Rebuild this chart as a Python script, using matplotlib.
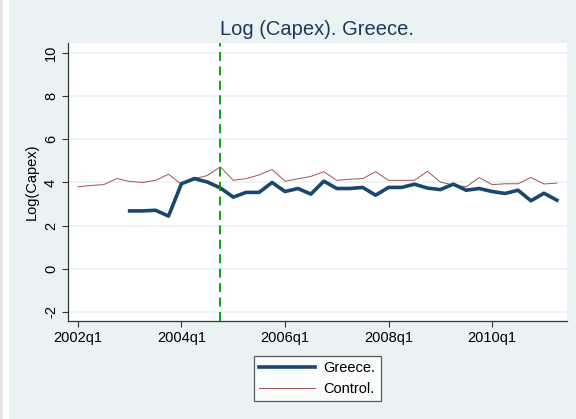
import matplotlib.pyplot as plt
from matplotlib.patches import Rectangle

quarters = list(range(38))  # 0 = 2002q1
tick_pos = [0, 8, 16, 24, 32]
tick_labels = ["2002q1", "2004q1", "2006q1", "2008q1", "2010q1"]
treat_q = 11  # 2004q4

greece_q = list(range(4, 38))
greece = [2.68, 2.68, 2.71, 2.44, 3.94, 4.18, 4.02, 3.75, 3.32, 3.54,
          3.54, 4.00, 3.58, 3.72, 3.46, 4.06, 3.72, 3.72, 3.77, 3.41,
          3.77, 3.77, 3.92, 3.74, 3.67, 3.92, 3.64, 3.72, 3.58, 3.49,
          3.64, 3.15, 3.50, 3.18]
control = [3.80, 3.86, 3.90, 4.18, 4.05, 4.00, 4.10, 4.38, 3.92, 4.18,
           4.32, 4.73, 4.10, 4.18, 4.35, 4.60, 4.06, 4.17, 4.28, 4.50,
           4.10, 4.15, 4.18, 4.50, 4.10, 4.10, 4.10, 4.52, 4.02, 3.88,
           3.80, 4.23, 3.90, 3.94, 3.94, 4.23, 3.93, 3.97]

bg = "#EAF2F3"
plt.rcParams["font.family"] = ["Liberation Sans", "DejaVu Sans"]

fig = plt.figure(figsize=(5.76, 4.19), dpi=100, facecolor=bg)
# thin border strip on the left, as in the screenshot
fig.patches.append(Rectangle((0, 0), 3 / 576, 1, transform=fig.transFigure,
                             color="#E4E4E4", zorder=0))
fig.patches.append(Rectangle((3 / 576, 0), 5 / 576, 1, transform=fig.transFigure,
                             color="white", zorder=0))

ax = fig.add_axes([68.3 / 576, 1 - 321 / 419, (566.7 - 68.3) / 576, (321 - 43.3) / 419])
ax.set_facecolor("white")

ax.plot(greece_q, greece, color="#1A476F", lw=2.6, label="Greece.", zorder=3)
ax.plot(quarters, control, color="#90353B", lw=0.7, alpha=0.85, label="Control.", zorder=2)
ax.axvline(treat_q, color="#009900", lw=1.3, ls=(0, (5, 3)), zorder=4)

ax.set_xlim(-0.74, 37.76)
ax.set_ylim(-2.43, 10.46)
ax.set_yticks([-2, 0, 2, 4, 6, 8, 10])
ax.set_yticklabels(["-2", "0", "2", "4", "6", "8", "10"], rotation=90, va="center")
ax.set_xticks(tick_pos)
ax.set_xticklabels(tick_labels)
ax.grid(axis="y", color=bg, lw=1.2)
ax.set_axisbelow(True)

for s in ["top", "right"]:
    ax.spines[s].set_visible(False)
for s in ["left", "bottom"]:
    ax.spines[s].set_color("#333333")
    ax.spines[s].set_linewidth(0.9)
ax.tick_params(colors="#333333", labelcolor="black", labelsize=10.5, length=4, width=0.8)

ax.set_ylabel("Log(Capex)", fontsize=10.5, labelpad=4)
ax.set_title("Log (Capex). Greece.", fontsize=14.5, color="#1E3A5A", pad=6)

leg = ax.legend(loc="upper center", bbox_to_anchor=(0.5, -0.1), ncol=1,
                fontsize=10.5, frameon=True, fancybox=False, edgecolor="#333333",
                handlelength=3.8, handletextpad=0.6, borderpad=0.35,
                labelspacing=0.45)
leg.get_frame().set_linewidth(0.9)

fig.savefig("out.png", dpi=100, facecolor=bg)
